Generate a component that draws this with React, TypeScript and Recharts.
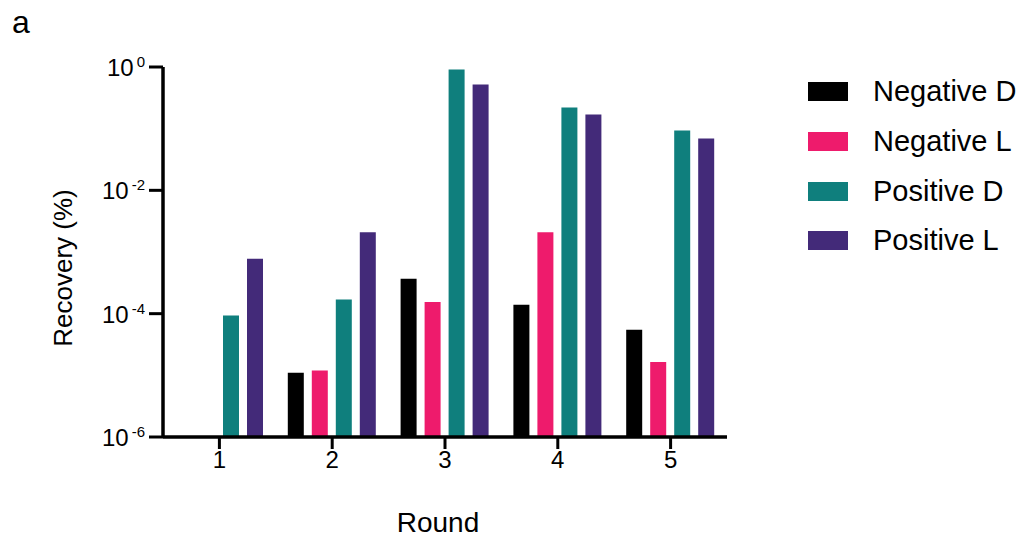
import { BarChart, Bar, XAxis, YAxis, Label } from 'recharts'

const rounds = ['1', '2', '3', '4', '5']
const negativeD = [null, 1.1e-5, 3.7e-4, 1.4e-4, 5.5e-5]
const negativeL = [null, 1.2e-5, 1.55e-4, 2.1e-3, 1.65e-5]
const positiveD = [9.3e-5, 1.7e-4, 0.91, 0.22, 0.093]
const positiveL = [7.8e-4, 2.1e-3, 0.52, 0.17, 0.069]
const yTicks = [1e-6, 1e-4, 1e-2, 1]

const SERIES = [
  { key: 'negD', name: 'Negative D', color: '#000000' },
  { key: 'negL', name: 'Negative L', color: '#EE1B6C' },
  { key: 'posD', name: 'Positive D', color: '#0F7F7D' },
  { key: 'posL', name: 'Positive L', color: '#432A79' },
]

const FONT = "Arial, 'Liberation Sans', sans-serif"

const data = rounds.map((r, i) => ({
  round: r,
  negD: negativeD[i],
  negL: negativeL[i],
  posD: positiveD[i],
  posL: positiveL[i],
}))

function PowerTick({ x, y, payload }: any) {
  const exp = Math.round(Math.log10(payload.value))
  return (
    <text x={x} y={y + 9} textAnchor="end" fontFamily={FONT} fontSize={24} fill="#000">
      <tspan>10</tspan>
      <tspan dx={3} dy={-9} fontSize={15}>{exp}</tspan>
    </text>
  )
}

function RoundTick({ x, y, payload }: any) {
  return (
    <text x={x} y={y + 17} textAnchor="middle" fontFamily={FONT} fontSize={24} fill="#000">
      {payload.value}
    </text>
  )
}

function LegendBox() {
  return (
    <div style={{ position: 'absolute', left: 808, top: 67, fontFamily: FONT }}>
      {SERIES.map(s => (
        <div key={s.key} style={{ display: 'flex', alignItems: 'center', height: 49.7 }}>
          <div style={{ width: 40, height: 19, background: s.color }} />
          <span style={{ marginLeft: 25, fontSize: 29, color: '#000' }}>{s.name}</span>
        </div>
      ))}
    </div>
  )
}

export default function App() {
  return (
    <div style={{ position: 'absolute', left: 0, top: 0, width: 1026, height: 541, background: '#fff' }}>
      <svg width={60} height={50} style={{ position: 'absolute', left: 0, top: 0 }}>
        <text x={12} y={33} fontFamily={FONT} fontSize={32} fill="#000">a</text>
      </svg>
      <BarChart
        width={1026}
        height={541}
        data={data}
        margin={{ top: 67, right: 299, bottom: 44, left: 83 }}
        barSize={16}
        barGap={8}
      >
        <XAxis
          dataKey="round"
          height={60}
          tickSize={12}
          tick={<RoundTick />}
          axisLine={{ stroke: '#000', strokeWidth: 3.5 }}
          tickLine={{ stroke: '#000', strokeWidth: 3 }}
        >
          <Label
            content={() => (
              <text x={438} y={532} textAnchor="middle" fontFamily={FONT} fontSize={28} fill="#000">
                Round
              </text>
            )}
          />
        </XAxis>
        <YAxis
          width={80}
          scale="log"
          domain={[1e-6, 1]}
          allowDataOverflow
          ticks={yTicks}
          interval={0}
          tickSize={14}
          tickMargin={4}
          tick={<PowerTick />}
          axisLine={{ stroke: '#000', strokeWidth: 3.5 }}
          tickLine={{ stroke: '#000', strokeWidth: 3 }}
        >
          <Label
            content={() => (
              <text
                x={63}
                y={268}
                transform="rotate(-90 63 268)"
                textAnchor="middle"
                dominantBaseline="central"
                fontFamily={FONT}
                fontSize={26}
                fill="#000"
              >
                Recovery (%)
              </text>
            )}
          />
        </YAxis>
        {SERIES.map(s => (
          <Bar key={s.key} dataKey={s.key} name={s.name} fill={s.color} isAnimationActive={false} />
        ))}
      </BarChart>
      <LegendBox />
    </div>
  )
}
